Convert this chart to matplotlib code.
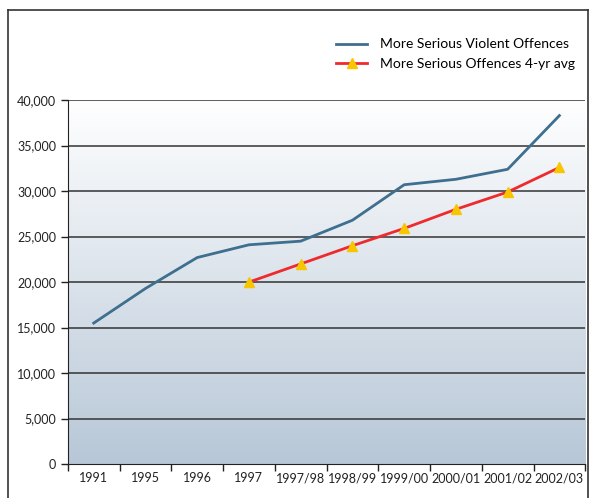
import numpy as np
import matplotlib.pyplot as plt
from matplotlib.lines import Line2D
from matplotlib.colors import LinearSegmentedColormap

plt.rcParams['font.family'] = ['Lato', 'DejaVu Sans']

years = ['1991', '1995', '1996', '1997', '1997/98', '1998/99',
         '1999/00', '2000/01', '2001/02', '2002/03']
violent = [15500, 19300, 22700, 24100, 24500, 26800, 30700, 31300, 32400, 38300]
avg_years = years[3:]
avg_4yr = [20000, 22000, 24000, 25900, 28000, 29900, 32600]

BLUE = '#3f6f8f'
RED = '#ee2a2e'
YELLOW = '#f7c600'

fig = plt.figure(figsize=(5.9, 4.98), dpi=100)
ax = fig.add_axes([0.115, 0.068, 0.877, 0.731])

x = np.arange(len(years))
xa = np.arange(3, len(years))

# gradient background, white at top to grey-blue at bottom
grad = np.linspace(0, 1, 256).reshape(-1, 1)
cmap = LinearSegmentedColormap.from_list('bg', ['#ffffff', '#b7c7d7'])
ax.imshow(grad, aspect='auto', cmap=cmap, origin='upper',
          extent=[-0.5, len(years) - 0.5, 0, 40000], zorder=0)

for v in range(5000, 40001, 5000):
    ax.axhline(v, color='#333333', lw=1.1, zorder=1)

ax.plot(x, violent, color=BLUE, lw=2, zorder=3)
ax.plot(xa, avg_4yr, color=RED, lw=2, zorder=3, marker='^', markersize=7.5,
        markerfacecolor=YELLOW, markeredgecolor=YELLOW)

ax.set_xlim(-0.5, len(years) - 0.5)
ax.set_ylim(0, 40000)
ax.set_yticks(range(0, 40001, 5000))
ax.set_yticklabels([f'{v:,}' for v in range(0, 40001, 5000)])
ax.set_xticks(np.arange(-0.5, len(years), 1))
ax.set_xticklabels([])
ax.set_xticks(x, minor=True)
ax.set_xticklabels(years, minor=True)
ax.tick_params(axis='x', which='major', length=5, width=1, color='#222222')
ax.tick_params(axis='x', which='minor', length=0, pad=6, labelsize=9, colors='#222222')
ax.tick_params(axis='y', length=5, width=1, color='#222222', labelsize=9, labelcolor='#222222')

for s in ['top', 'right']:
    ax.spines[s].set_visible(False)
ax.spines['left'].set_color('#222222')
ax.spines['bottom'].set_color('#222222')

handles = [Line2D([], [], color=BLUE, lw=2),
           Line2D([], [], color=RED, lw=2, marker='^', markersize=7.5,
                  markerfacecolor=YELLOW, markeredgecolor=YELLOW)]
fig.legend(handles, ['More Serious Violent Offences', 'More Serious Offences 4-yr avg'],
           loc='upper right', bbox_to_anchor=(0.995, 0.948), frameon=False,
           fontsize=10, handlelength=2.2, labelspacing=0.55, handletextpad=0.9)

# outer frame
fig.add_artist(Line2D([0.014, 0.014], [0, 0.98], color='#333333', lw=1.2))
fig.add_artist(Line2D([0.014, 0.997], [0.98, 0.98], color='#333333', lw=1.2))
fig.add_artist(Line2D([0.997, 0.997], [0, 0.98], color='#333333', lw=1.2))

fig.savefig('out.png', dpi=100)
